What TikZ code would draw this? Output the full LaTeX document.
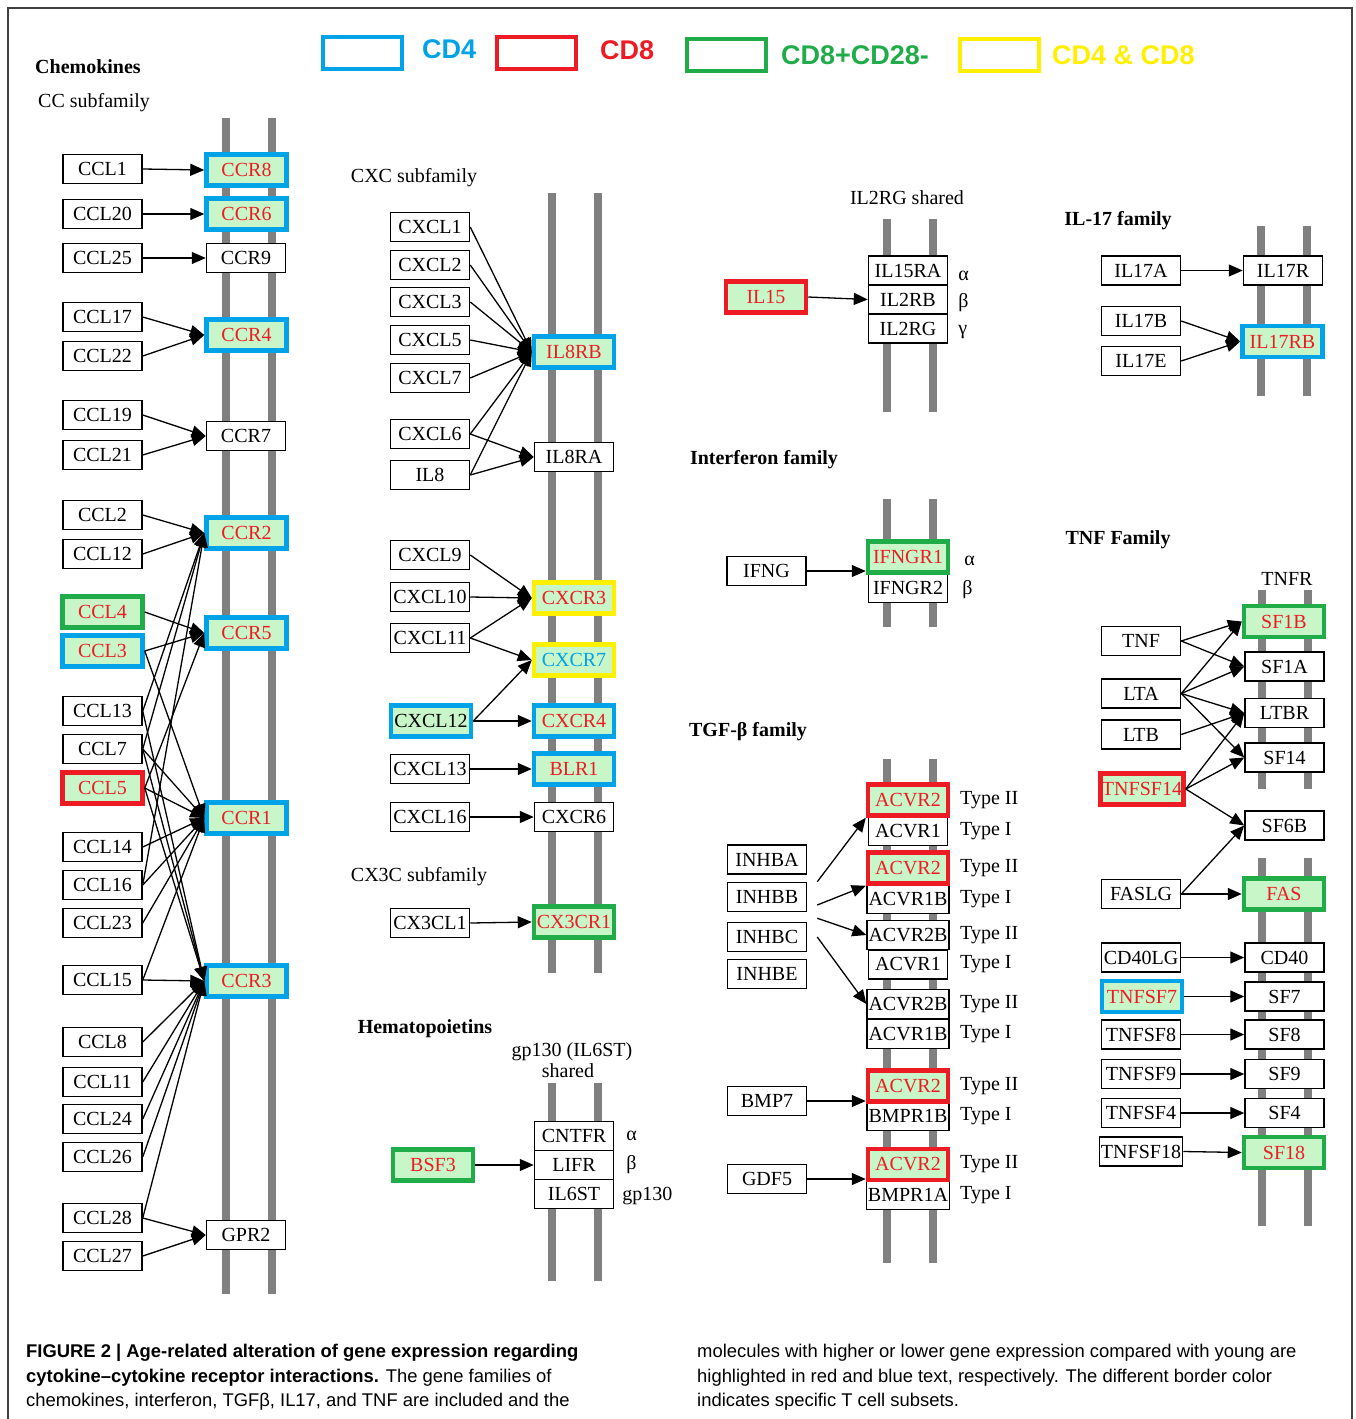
\documentclass[tikz,border=0pt]{standalone}
\usepackage{fontspec}
\setmainfont{Liberation Serif}
\newfontfamily\capfont{Liberation Sans}
\usetikzlibrary{arrows.meta}

\definecolor{cdblue}{RGB}{0,162,232}
\definecolor{cdred}{RGB}{237,28,36}
\definecolor{cdgreen}{RGB}{32,172,72}
\definecolor{cdyellow}{RGB}{255,240,0}
\definecolor{upgreen}{RGB}{200,246,200}
\definecolor{membrane}{RGB}{128,128,128}

\newcommand{\genesize}{\fontsize{20}{20}\selectfont}

\tikzset{
  gene/.style={draw, fill=white, line width=1.5, minimum width=79, minimum height=29, inner ysep=0, inner xsep=1.5, font=\genesize},
  marked/.style={gene, fill=upgreen, text=cdred, line width=4.5, minimum width=80, minimum height=31},
  cdfour/.style={marked, draw=cdblue},
  cdeight/.style={marked, draw=cdred},
  cdlate/.style={marked, draw=cdgreen},
  cdboth/.style={marked, draw=cdyellow},
  bar/.style={draw=membrane, line width=8},
  bind/.style={line width=1.3, -{Triangle[length=14pt,width=12pt]}},
  family/.style={font=\bfseries\genesize, inner sep=0},
  note/.style={font=\genesize, inner sep=0},
  legbox/.style={draw, line width=4, minimum width=79, minimum height=32},
  legtext/.style={font=\capfont\bfseries\fontsize{27}{27}\selectfont, anchor=west, inner sep=0},
  captext/.style={font=\capfont\fontsize{18.4}{18.4}\selectfont, anchor=base west, inner sep=0},
}

\begin{document}
\begin{tikzpicture}[x=1pt, y=-1pt]
  \useasboundingbox (0,0) rectangle (1356,1419);
  \draw[line width=1.5, black!75] (8,1419) -- (8,8) -- (1352,8) -- (1352,1419);

  % legend
  \node[legbox, draw=cdblue] (legfour) at (362,53) {};
  \node[legtext, text=cdblue] (legfourtxt) at (422,49) {CD4};
  \node[legbox, draw=cdred] (legeight) at (536,53) {};
  \node[legtext, text=cdred] (legeighttxt) at (600,50) {CD8};
  \node[legbox, draw=cdgreen] (leglate) at (726,55) {};
  \node[legtext, text=cdgreen] (leglatetxt) at (781,55) {CD8+CD28-};
  \node[legbox, draw=cdyellow] (legboth) at (999,55) {};
  \node[legtext, text=cdyellow] (legbothtxt) at (1052,55) {CD4 \& CD8};

  % membranes
  \foreach \x in {225.5,272} \draw[bar] (\x,118) -- (\x,1294);
  \foreach \x in {551.5,597.5} {\draw[bar] (\x,193) -- (\x,973); \draw[bar] (\x,1083) -- (\x,1281);}
  \foreach \x in {887,933} {\draw[bar] (\x,219) -- (\x,412); \draw[bar] (\x,499) -- (\x,627); \draw[bar] (\x,759) -- (\x,1263);}
  \foreach \x in {1261,1307} \draw[bar] (\x,226) -- (\x,396);
  \foreach \x in {1262,1308} {\draw[bar] (\x,590) -- (\x,789); \draw[bar] (\x,858) -- (\x,1226);}

  % titles
  \node[family, anchor=west] (chemo) at (35,67) {Chemokines};
  \node[note, anchor=west] (ccsub) at (38,103) {CC subfamily};
  \node[note] (cxcsub) at (414,178) {CXC subfamily};
  \node[note] (cxthreesub) at (419,877) {CX3C subfamily};
  \node[family] (hemato) at (425,1029) {Hematopoietins};
  \node[note] (gpshared) at (572,1052) {gp130 (IL6ST)};
  \node[note] (gpsharedb) at (568,1071) {shared};
  \node[note] (ilshared) at (907,198) {IL2RG shared};
  \node[family] (ilfam) at (1118,221) {IL-17 family};
  \node[family] (ifnfam) at (764,460) {Interferon family};
  \node[family] (tgffam) at (748,732) {TGF-β family};
  \node[family] (tnffam) at (1118,540) {TNF Family};
  \node[note] (tnfr) at (1287,579) {TNFR};

  % CC subfamily
  \foreach \n/\y in {CCL1/169,CCL20/214,CCL25/258,CCL17/317,CCL22/356,CCL19/415,CCL21/455,CCL2/515,CCL12/554,
                     CCL13/711,CCL7/749,CCL14/847,CCL16/885,CCL23/923,CCL15/980,CCL8/1042,CCL11/1082,
                     CCL24/1119,CCL26/1157,CCL28/1218,CCL27/1256}
    \node[gene] (\n) at (102.5,\y) {\n};
  \node[cdlate] (CCL4) at (102.5,612) {CCL4};
  \node[cdfour] (CCL3) at (102.5,651) {CCL3};
  \node[cdeight] (CCL5) at (102.5,788) {CCL5};
  \foreach \n/\y in {CCR9/258,CCR7/436,GPR2/1235} \node[gene] (\n) at (246,\y) {\n};
  \foreach \n/\y in {CCR8/170,CCR6/214,CCR4/335,CCR2/533,CCR5/633,CCR1/818,CCR3/981}
    \node[cdfour] (\n) at (246.5,\y) {\n};

  % CXC and CX3C subfamily
  \foreach \n/\y in {CXCL1/227,CXCL2/265,CXCL3/302,CXCL5/340,CXCL7/378,CXCL6/434,IL8/475,CXCL9/555,
                     CXCL10/597,CXCL11/638,CXCL13/769,CXCL16/817,CX3CL1/923}
    \node[gene] (\n) at (430,\y) {\n};
  \node[cdfour, text=black] (CXCL12) at (431,721) {CXCL12};
  \foreach \n/\y in {IL8RA/457,CXCR6/817} \node[gene] (\n) at (574,\y) {\n};
  \foreach \n/\y in {IL8RB/352,CXCR4/721,BLR1/769} \node[cdfour] (\n) at (574,\y) {\n};
  \node[cdboth] (CXCR3) at (574,598) {CXCR3};
  \node[cdboth, text=cdblue] (CXCR7) at (574,660) {CXCR7};
  \node[cdlate] (CX3CR1) at (574,922) {CX3CR1};

  % hematopoietins
  \foreach \n/\y in {CNTFR/1136,LIFR/1165,IL6ST/1194} \node[gene] (\n) at (574,\y) {\n};
  \node[cdlate] (BSF3) at (433,1165) {BSF3};
  \node[note, anchor=west] (cntfrsub) at ([shift={(12,0)}]CNTFR.east) {α};
  \node[note, anchor=west] (lifrsub) at ([shift={(12,0)}]LIFR.east) {β};
  \node[note, anchor=west] (ilsixsub) at ([shift={(8,2)}]IL6ST.east) {gp130};

  % IL2RG shared
  \foreach \n/\y in {IL15RA/270.5,IL2RB/299.5,IL2RG/328.5} \node[gene] (\n) at (908,\y) {\n};
  \node[cdeight] (IL15) at (766,297) {IL15};
  \node[note, anchor=west] (ilfifsub) at ([shift={(10,5)}]IL15RA.east) {α};
  \node[note, anchor=west] (iltwobsub) at ([shift={(10,3)}]IL2RB.east) {β};
  \node[note, anchor=west] (iltwogsub) at ([shift={(10,4)}]IL2RG.east) {γ};

  % IL-17 family
  \foreach \n/\y in {IL17A/270.5,IL17B/321,IL17E/361} \node[gene] (\n) at (1141,\y) {\n};
  \node[gene] (IL17R) at (1283,270.5) {IL17R};
  \node[cdfour] (IL17RB) at (1282.5,341.5) {IL17RB};

  % interferon family
  \node[gene] (IFNG) at (766.5,571) {IFNG};
  \node[gene] (IFNGR2) at (908,588) {IFNGR2};
  \node[cdlate] (IFNGR1) at (908,557) {IFNGR1};
  \node[note, anchor=west] (ifnasub) at ([shift={(14,4)}]IFNGR1.east) {α};
  \node[note, anchor=west] (ifnbsub) at ([shift={(14,2)}]IFNGR2.east) {β};

  % TGF-beta family
  \foreach \n/\t/\y in {ACVRIa/ACVR1/831,ACVRIBa/ACVR1B/899,ACVRIIBa/ACVR2B/935,ACVRIb/ACVR1/964.5,
                        ACVRIIBb/ACVR2B/1004,ACVRIBb/ACVR1B/1034,BMPRIB/BMPR1B/1116,BMPRIA/BMPR1A/1195}
    \node[gene] (\n) at (908,\y) {\t};
  \foreach \n/\y in {ACVRIIa/800,ACVRIIb/868,ACVRIIc/1086,ACVRIId/1164.5}
    \node[cdeight] (\n) at (908,\y) {ACVR2};
  \foreach \n/\t in {ACVRIIa/Type II,ACVRIa/Type I,ACVRIIb/Type II,ACVRIBa/Type I,ACVRIIBa/Type II,
                     ACVRIb/Type I,ACVRIIBb/Type II,ACVRIBb/Type I,ACVRIIc/Type II,BMPRIB/Type I,
                     ACVRIId/Type II,BMPRIA/Type I}
    \node[note, anchor=west] (\n-t) at (960,0 |- \n.east) {\t};
  \foreach \n/\y in {INHBA/859.5,INHBB/897,INHBC/937,INHBE/974,BMP7/1101,GDF5/1179}
    \node[gene] (\n) at (767,\y) {\n};

  % TNF family
  \foreach \n/\y in {TNF/641,LTA/693.5,LTB/734.5,FASLG/894,CD40LG/957.5,TNFSF8/1034.5,TNFSF9/1074,
                     TNFSF4/1113,TNFSF18/1151.5}
    \node[gene] (\n) at (1141,\y) {\n};
  \node[cdeight] (TNFSF14) at (1142,789) {TNFSF14};
  \node[cdfour] (TNFSF7) at (1142,996.5) {TNFSF7};
  \foreach \n/\y in {SF1A/666.5,LTBR/713,SF14/757.5,SF6B/825.5,CD40/957.5,SF7/996.5,SF8/1034.5,
                     SF9/1074,SF4/1113}
    \node[gene] (\n) at (1284.5,\y) {\n};
  \foreach \n/\y in {SF1B/621.5,FAS/894,SF18/1152.5} \node[cdlate] (\n) at (1284,\y) {\n};

  % interactions
  \foreach \a/\b in {CCL1/CCR8,CCL20/CCR6,CCL25/CCR9,CCL17/CCR4,CCL22/CCR4,CCL19/CCR7,CCL21/CCR7,
                     CCL2/CCR2,CCL12/CCR2,CCL13/CCR2,CCL7/CCR2,CCL16/CCR2,CCL4/CCR5,CCL3/CCR5,CCL5/CCR5,
                     CCL3/CCR1,CCL7/CCR1,CCL5/CCR1,CCL14/CCR1,CCL16/CCR1,CCL23/CCR1,CCL15/CCR1,
                     CCL13/CCR3,CCL7/CCR3,CCL5/CCR3,CCL15/CCR3,CCL8/CCR3,CCL11/CCR3,CCL24/CCR3,
                     CCL26/CCR3,CCL28/CCR3,CCL28/GPR2,CCL27/GPR2}
    \draw[bind] (\a.east) -- (\b.west);
  \foreach \a/\b in {CXCL1/IL8RB,CXCL2/IL8RB,CXCL3/IL8RB,CXCL5/IL8RB,CXCL7/IL8RB,CXCL6/IL8RB,IL8/IL8RB,
                     CXCL6/IL8RA,IL8/IL8RA,CXCL9/CXCR3,CXCL10/CXCR3,CXCL11/CXCR3,CXCL11/CXCR7,
                     CXCL12/CXCR7,CXCL12/CXCR4,CXCL13/BLR1,CXCL16/CXCR6,CX3CL1/CX3CR1}
    \draw[bind] (\a.east) -- (\b.west);
  \foreach \a/\b in {IL17A/IL17R,IL17B/IL17RB,IL17E/IL17RB,IL15/IL2RB,
                     TNF/SF1B,TNF/SF1A,LTA/SF1B,LTA/SF1A,LTA/LTBR,LTA/SF14,LTB/LTBR,TNFSF14/LTBR,
                     TNFSF14/SF14,TNFSF14/SF6B,FASLG/SF6B,FASLG/FAS,CD40LG/CD40,TNFSF7/SF7,
                     TNFSF8/SF8,TNFSF9/SF9,TNFSF4/SF4,TNFSF18/SF18}
    \draw[bind] (\a.east) -- (\b.west);
  \draw[bind] (BSF3.east) -- (BSF3.east -| LIFR.west);
  \draw[bind] (IFNG.east) -- (IFNG.east -| IFNGR1.west);
  \draw[bind] (BMP7.east) -- (BMP7.east -| ACVRIIc.west);
  \draw[bind] (GDF5.east) -- (GDF5.east -| ACVRIId.west);
  \draw[bind] ([shift={(10,0)}]INHBB.north east) -- (ACVRIIa.south west);
  \draw[bind] ([shift={(10,8)}]INHBB.east) -- (ACVRIIb.south west);
  \draw[bind] ([shift={(10,6)}]INHBB.south east) -- (ACVRIIBa.west);
  \draw[bind] ([shift={(10,0)}]INHBC.east) -- (ACVRIIBb.west);

  % caption
  \node[captext] (capa) at (26,1357) {\bfseries FIGURE 2 | Age-related alteration of gene expression regarding};
  \node[captext] (capb) at (26,1382) {\textbf{cytokine–cytokine receptor interactions.} The gene families of};
  \node[captext] (capc) at (26,1406) {chemokines, interferon, TGFβ, IL17, and TNF are included and the};
  \node[captext] (capd) at (697,1357) {molecules with higher or lower gene expression compared with young are};
  \node[captext] (cape) at (697,1382) {highlighted in red and blue text, respectively. The different border color};
  \node[captext] (capf) at (697,1406) {indicates specific T cell subsets.};
\end{tikzpicture}
\end{document}
